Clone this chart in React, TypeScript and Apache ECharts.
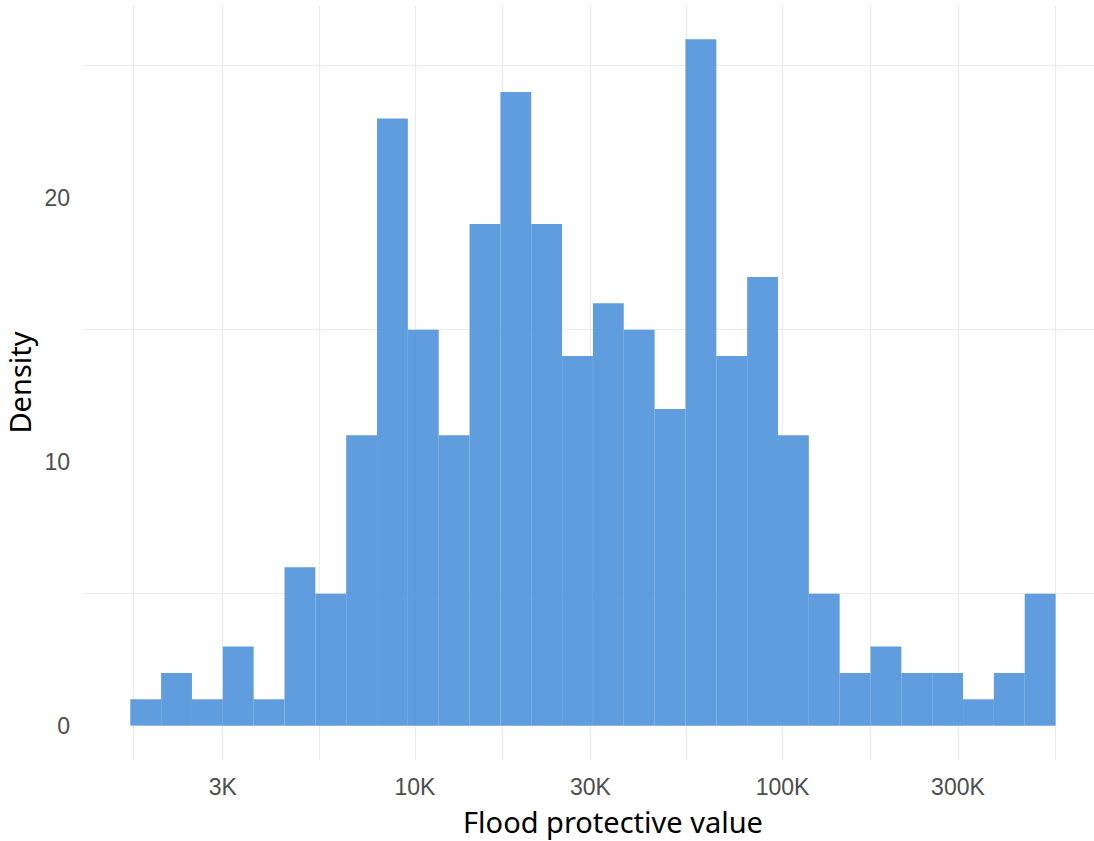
import React, { useEffect, useRef } from "react";
import * as echarts from "echarts";

// Histogram counts per bin (30 log-spaced bins)
const counts = [1, 2, 1, 3, 1, 6, 5, 11, 23, 15, 11, 19, 24, 19, 14, 16, 15, 12, 26, 14, 17, 11, 5, 2, 3, 2, 2, 1, 2, 5];
// Outer edges of the binned range (values, log-spaced bins)
const binRange = [1681, 553000];
// Axis extent (values)
const xExtent = [1258, 739600];
const yExtent = [-1.3, 27.3];
// X tick labels
const xBreaks = [3000, 10000, 30000, 100000, 300000];
const xBreakLabels = ["3K", "10K", "30K", "100K", "300K"];
// X minor grid positions
const xMinorBreaks = [1710, 5477, 17321, 54772, 173205, 551000];
// Y labels and grid positions
const yLabelValues = [0, 10, 20];
const yGridValues = [5, 15, 25];

const L = (v: number) => Math.log10(v);

export default function App() {
  const ref = useRef<HTMLDivElement>(null);
  useEffect(() => {
    if (!ref.current) return;
    const chart = echarts.init(ref.current, null, { renderer: "svg" });
    const lo = L(binRange[0]);
    const hi = L(binRange[1]);
    const n = counts.length;
    const w = (hi - lo) / n;
    const data = counts.map((c, i) => [lo + i * w, lo + (i + 1) * w, c]);
    const xLabelVals = xBreaks.map(L);
    const xGridVals = [...xMinorBreaks, ...xBreaks].map(L).sort((a, b) => a - b);
    chart.setOption({
      animation: false,
      grid: { left: 84, top: 5, width: 1018, height: 755, containLabel: false, outerBoundsMode: "none" },
      xAxis: {
        type: "value",
        min: L(xExtent[0]),
        max: L(xExtent[1]),
        name: "Flood protective value",
        nameLocation: "middle",
        nameGap: 47,
        nameTextStyle: {
          fontFamily: "Noto Sans",
          fontSize: 29,
          color: "#000",
          padding: [0, 0, 0, 40],
        },
        axisLine: { show: false },
        axisTick: { show: false, customValues: xGridVals },
        axisLabel: {
          customValues: xLabelVals,
          margin: 15,
          fontFamily: "Liberation Sans",
          fontSize: 23,
          color: "#4d4d4d",
          formatter: (v: number) => {
            let best = 0;
            xLabelVals.forEach((lv, i) => {
              if (Math.abs(lv - v) < Math.abs(xLabelVals[best] - v)) best = i;
            });
            return xBreakLabels[best];
          },
        },
        splitLine: { show: true, lineStyle: { color: "#ebebeb", width: 1.2 } },
      },
      yAxis: {
        type: "value",
        min: yExtent[0],
        max: yExtent[1],
        name: "Density",
        nameLocation: "middle",
        nameGap: 46,
        nameRotate: 90,
        nameTextStyle: { fontFamily: "Noto Sans", fontSize: 29, color: "#000" },
        axisLine: { show: false },
        axisTick: { show: false, customValues: yGridValues },
        axisLabel: {
          customValues: yLabelValues,
          margin: 14,
          fontFamily: "Liberation Sans",
          fontSize: 23,
          color: "#4d4d4d",
          padding: [5, 0, 0, 0],
        },
        splitLine: { show: true, lineStyle: { color: "#ebebeb", width: 1.2 } },
      },
      series: [
        {
          type: "custom",
          data,
          encode: { x: [0, 1], y: 2 },
          clip: true,
          renderItem: (params: any, api: any) => {
            const p0 = api.coord([api.value(0), 0]);
            const p1 = api.coord([api.value(1), api.value(2)]);
            return {
              type: "rect",
              shape: { x: p0[0], y: p1[1], width: p1[0] - p0[0], height: p0[1] - p1[1] },
              style: { fill: "rgba(74,144,217,0.88)" },
            };
          },
        },
      ],
    });
    return () => chart.dispose();
  }, []);
  return (
    <div style={{ position: "fixed", left: 0, top: 0, width: 1094, height: 841, overflow: "hidden", background: "#fff" }}>
      <div ref={ref} style={{ width: 1102, height: 841 }} />
    </div>
  );
}
